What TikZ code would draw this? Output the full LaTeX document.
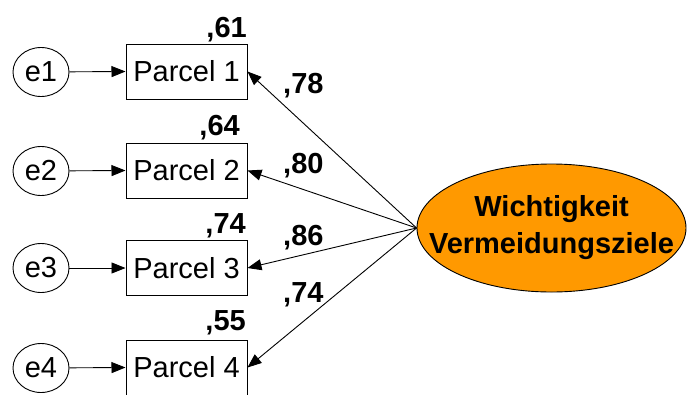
\documentclass[tikz,border=0pt]{standalone}
\usepackage{fontspec}
\setmainfont{Liberation Sans}
\usetikzlibrary{shapes.geometric,arrows.meta}
\definecolor{latentorange}{HTML}{FF9900}
\tikzset{
  errnode/.style={draw, ellipse, line width=0.9pt, minimum width=56pt, minimum height=49pt, inner sep=0pt, font=\fontsize{29}{33}\selectfont},
  parcel/.style={draw, rectangle, line width=1pt, minimum width=121pt, minimum height=55pt, inner sep=0pt, font=\fontsize{29}{33}\selectfont},
  latent/.style={draw, ellipse, fill=latentorange, line width=0.9pt, inner xsep=-28pt, inner ysep=12pt, minimum width=269pt, minimum height=128pt, align=center, font=\bfseries\fontsize{29}{37}\selectfont},
  coef/.style={inner sep=0pt, font=\bfseries\fontsize{29}{33}\selectfont},
  arr/.style={line width=0.9pt, -{Triangle[length=14pt,width=11pt]}}
}
\begin{document}
\begin{tikzpicture}[x=1pt,y=-1pt]
  \useasboundingbox (0,0) rectangle (687,394);

  % indicator boxes
  \node[parcel] (p1) at (186.5,71.5) {Parcel 1};
  \node[parcel] (p2) at (186.5,170.5) {Parcel 2};
  \node[parcel] (p3) at (186.5,268) {Parcel 3};
  \node[parcel] (p4) at (186.5,367.5) {Parcel 4};

  % error terms
  \node[errnode] (e1) at (41,72) {e1};
  \node[errnode] (e2) at (41,171) {e2};
  \node[errnode] (e3) at (41,268) {e3};
  \node[errnode] (e4) at (41,368) {e4};

  % latent factor
  \node[latent] (lat) at (551.5,228) {Wichtigkeit\\Vermeidungsziele};

  % error paths
  \foreach \i in {1,...,4} {
    \draw[arr] (e\i) -- (p\i.west);
  }

  % loadings
  \foreach \i in {1,...,4} {
    \draw[arr] (lat.west) -- (p\i.east);
  }

  % squared multiple correlations
  \node[coef, anchor=base east] (r1) at (247,37) {,61};
  \node[coef, anchor=base east] (r2) at (240,135) {,64};
  \node[coef, anchor=base east] (r3) at (246,233) {,74};
  \node[coef, anchor=base east] (r4) at (246,330) {,55};

  % standardized loadings
  \node[coef, anchor=base west] (l1) at (283,93) {,78};
  \node[coef, anchor=base west] (l2) at (283,173) {,80};
  \node[coef, anchor=base west] (l3) at (283,245) {,86};
  \node[coef, anchor=base west] (l4) at (283,302) {,74};
\end{tikzpicture}
\end{document}
